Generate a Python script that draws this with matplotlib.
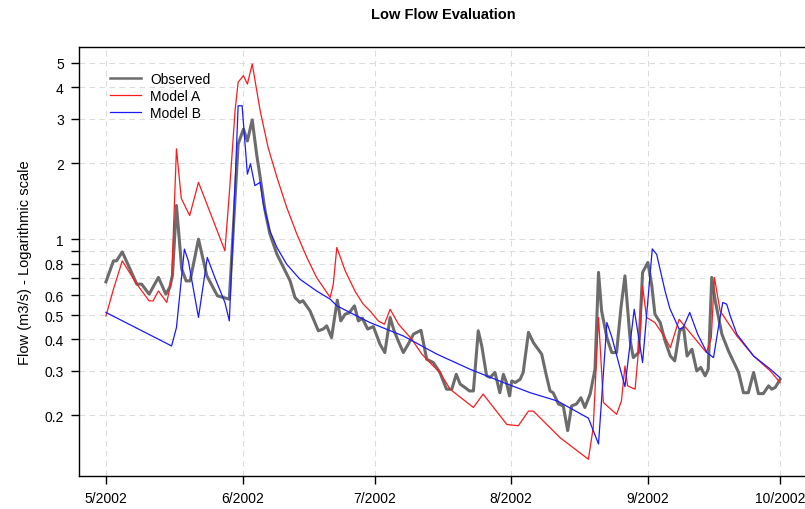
import matplotlib
matplotlib.use("Agg")
import matplotlib.pyplot as plt
import matplotlib.dates as mdates
import numpy as np
from datetime import datetime

# ---- data: x = days since 2002-05-01, y = flow (m3/s) ----
obs_day = [0, 1.7, 2.4, 3.7, 7.0, 8.1, 9.8, 11.9, 13.6, 14.5, 15.1, 16.0, 17.2, 18.2, 19.1,
           21.0, 22.9, 25.3, 28.0, 30.0, 31.2, 32.1, 33.2, 34.2, 35.0, 36.1, 37.2, 38.8,
           40.3, 41.8, 42.9, 44.0, 44.7, 46.3, 48.2, 49.3, 50.1, 51.2, 52.5, 53.3, 54.3,
           55.2, 56.4, 57.3, 58.2, 59.4, 60.7, 62.2, 63.3, 64.5, 65.4, 66.5, 67.5, 68.6,
           69.8, 71.5, 72.8, 74.3, 75.8, 77.3, 78.5, 79.5, 80.4, 81.5, 82.5, 83.4, 84.5,
           85.3, 86.4, 87.2, 88.3, 89.4, 90.2, 90.9, 91.6, 92.1, 92.9, 94.0, 94.7, 95.9,
           97.0, 98.1, 98.9, 99.9, 100.8, 101.5, 102.7, 103.8, 104.8, 105.7, 106.8, 107.8,
           108.7, 109.9, 111.0, 111.8, 112.5, 113.7, 114.8, 115.9, 116.9, 117.8, 119.0,
           119.7, 120.9, 121.8, 123.0, 123.9, 124.6, 125.8, 126.9, 128.1, 129.1, 130.2,
           131.1, 131.9, 133.0, 134.1, 135.0, 136.0, 136.7, 137.5, 138.3, 139.8, 141.3,
           143.6, 144.7, 145.8, 147.0, 148.1, 149.2, 150.4, 151.1, 151.9, 152.6, 153.0]
obs_val = [0.677, 0.82, 0.82, 0.89, 0.663, 0.663, 0.605, 0.705, 0.605, 0.645, 0.72, 1.36,
           0.76, 0.683, 0.683, 1.0, 0.715, 0.596, 0.578, 2.38, 2.73, 2.45, 2.97, 2.17, 1.76,
           1.30, 1.05, 0.872, 0.772, 0.683, 0.587, 0.561, 0.57, 0.52, 0.433, 0.44, 0.453,
           0.407, 0.573, 0.474, 0.504, 0.51, 0.544, 0.474, 0.486, 0.44, 0.45, 0.383, 0.355,
           0.489, 0.433, 0.389, 0.355, 0.383, 0.42, 0.435, 0.334, 0.324, 0.296, 0.254,
           0.254, 0.291, 0.266, 0.258, 0.25, 0.25, 0.433, 0.377, 0.287, 0.283, 0.296, 0.246,
           0.291, 0.27, 0.239, 0.274, 0.27, 0.278, 0.296, 0.427, 0.389, 0.366, 0.35, 0.291,
           0.25, 0.246, 0.222, 0.218, 0.174, 0.218, 0.222, 0.235, 0.215, 0.243, 0.305,
           0.738, 0.519, 0.407, 0.355, 0.355, 0.536, 0.715, 0.395, 0.339, 0.355, 0.738,
           0.808, 0.653, 0.504, 0.467, 0.395, 0.344, 0.329, 0.433, 0.446, 0.344, 0.366,
           0.30, 0.31, 0.287, 0.305, 0.705, 0.569, 0.42, 0.36, 0.296, 0.246, 0.246, 0.296,
           0.244, 0.244, 0.262, 0.254, 0.258, 0.27, 0.278]

modA_day = [0, 1.7, 3.7, 7.0, 9.8, 10.7, 11.9, 13.8, 14.9, 16.0, 17.1, 19.0, 21.0, 27.0,
            28.1, 29.3, 30.0, 31.2, 32.1, 33.2, 35.0, 36.8, 38.8, 41.0, 43.3, 45.6, 47.8,
            50.9, 51.6, 52.4, 54.3, 56.5, 58.4, 59.9, 61.8, 63.2, 64.5, 66.4, 69.4, 71.7,
            73.9, 75.8, 78.1, 83.4, 85.6, 91.0, 93.6, 95.9, 97.0, 103.1, 109.5, 110.6,
            111.8, 112.9, 115.9, 117.0, 117.8, 118.4, 120.1, 121.2, 121.8, 122.7, 124.6,
            126.9, 128.1, 130.1, 131.3, 136.3, 137.4, 138.1, 139.4, 143.2, 147.0, 150.8,
            153.0]
modA_val = [0.496, 0.633, 0.82, 0.663, 0.569, 0.569, 0.623, 0.561, 0.69, 2.28, 1.45, 1.24,
            1.68, 0.899, 1.6, 3.23, 4.19, 4.45, 4.12, 4.95, 3.23, 2.31, 1.76, 1.34, 1.05,
            0.846, 0.705, 0.587, 0.663, 0.927, 0.749, 0.623, 0.552, 0.52, 0.474, 0.46,
            0.527, 0.46, 0.401, 0.35, 0.319, 0.296, 0.254, 0.215, 0.243, 0.184, 0.182,
            0.208, 0.208, 0.163, 0.134, 0.179, 0.489, 0.225, 0.202, 0.228, 0.314, 0.262,
            0.254, 0.42, 0.65, 0.489, 0.467, 0.407, 0.371, 0.481, 0.453, 0.355, 0.407,
            0.705, 0.519, 0.413, 0.344, 0.30, 0.27]

modB_day = [0, 14.9, 16.0, 17.8, 18.7, 21.0, 23.0, 24.7, 27.0, 28.0, 29.3, 30.0, 30.9,
            32.1, 32.8, 33.8, 35.0, 35.7, 37.2, 38.8, 41.0, 44.0, 47.8, 50.9, 52.4, 59.9,
            67.5, 75.1, 82.6, 90.2, 96.3, 102.5, 109.5, 111.8, 113.7, 114.8, 117.8, 119.9,
            121.8, 124.0, 125.0, 126.9, 128.0, 130.1, 131.0, 132.5, 134.3, 136.4, 137.9,
            139.0, 140.0, 140.9, 141.7, 143.2, 147.0, 150.8, 153.0]
modB_val = [0.512, 0.377, 0.446, 0.913, 0.82, 0.489, 0.846, 0.705, 0.561, 0.474, 1.65,
            3.38, 3.38, 1.81, 1.99, 1.63, 1.68, 1.38, 1.08, 0.927, 0.796, 0.694, 0.623,
            0.578, 0.544, 0.467, 0.413, 0.35, 0.305, 0.27, 0.246, 0.228, 0.195, 0.154,
            0.467, 0.41, 0.26, 0.527, 0.324, 0.915, 0.87, 0.623, 0.53, 0.44, 0.445, 0.512,
            0.42, 0.355, 0.339, 0.446, 0.561, 0.552, 0.496, 0.42, 0.344, 0.305, 0.282]

tick_days = [0, 31, 61, 92, 123, 153]
tick_labels = ["5/2002", "6/2002", "7/2002", "8/2002", "9/2002", "10/2002"]
y_ticks = [0.2, 0.3, 0.4, 0.5, 0.6, 0.7, 0.8, 0.9, 1, 2, 3, 4, 5]
y_labels = ["0.2", "0.3", "0.4", "0.5", "0.6", "", "0.8", "", "1", "2", "3", "4", "5"]

plt.rcParams['font.family'] = ['Liberation Sans', 'DejaVu Sans']

base = mdates.date2num(datetime(2002, 5, 1))
fig = plt.figure(figsize=(8.05, 5.10), dpi=100)
W, H = 805.0, 510.0
ax = fig.add_axes([79 / W, (H - 477) / H, (807 - 79) / W, (477 - 48) / H])

ax.plot(base + np.array(obs_day), obs_val, color='#6c6c6c', lw=2.2, label='Observed', zorder=3)
ax.plot(base + np.array(modA_day), modA_val, color='#ff1a1a', lw=0.9, label='Model A', zorder=4)
ax.plot(base + np.array(modB_day), modB_val, color='#1a1aff', lw=0.9, label='Model B', zorder=5)

ax.set_yscale('log')
ax.set_ylim(0.115, 5.78)
ax.set_xlim(base - 6.12, base + 159.12)
ax.yaxis.set_minor_locator(matplotlib.ticker.NullLocator())
ax.set_yticks(y_ticks)
ax.set_yticklabels(y_labels)
ax.set_xticks(base + np.array(tick_days))
ax.set_xticklabels(tick_labels)
ax.xaxis.set_minor_locator(matplotlib.ticker.NullLocator())

ax.tick_params(axis='both', direction='out', length=6, width=1, labelsize=10, colors='black')
ax.tick_params(axis='y', pad=5)
ax.tick_params(axis='x', pad=5)

ax.grid(True, color='#dcdcdc', lw=0.8, linestyle=(0, (5, 4)), zorder=0)
for s in ax.spines.values():
    s.set_linewidth(1.0)
    s.set_color('black')

ax.set_ylabel('Flow (m3/s) - Logarithmic scale', fontsize=10.5, labelpad=9)
fig.text(443 / W, 1 - 15 / H, 'Low Flow Evaluation', ha='center', va='center',
         fontsize=10.5, fontweight='bold')

leg = ax.legend(loc='upper left', bbox_to_anchor=((110 - 79) / 728, (477 - 73) / 429),
                frameon=False, fontsize=10, handlelength=2.2, handletextpad=0.7,
                labelspacing=0.2, borderaxespad=0, borderpad=0)
leg.get_lines()[0].set_linewidth(1.8)

fig.savefig('out.png', dpi=100)
